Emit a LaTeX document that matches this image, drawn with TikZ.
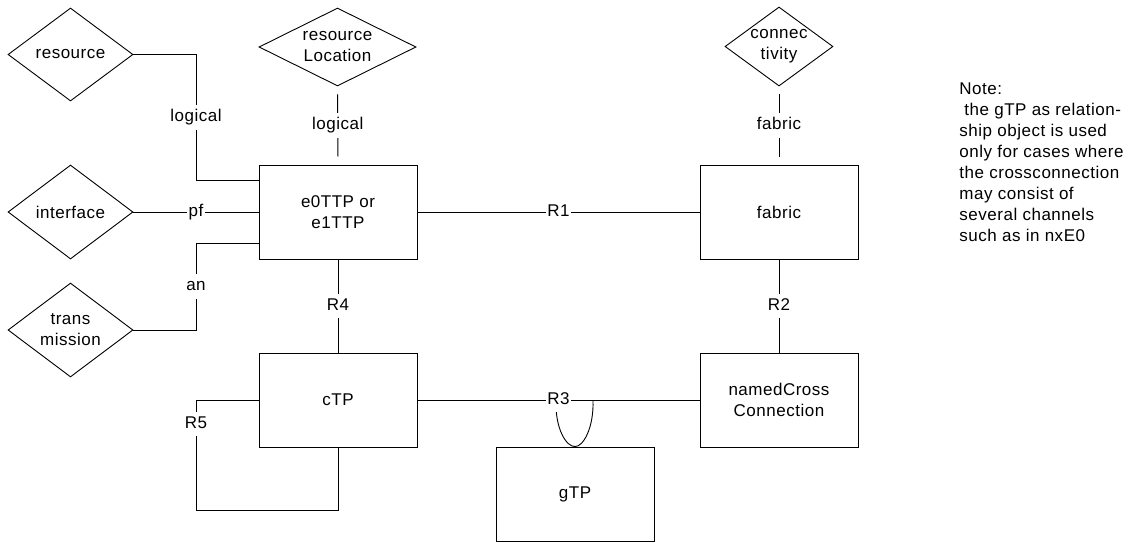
\documentclass[tikz,border=0pt]{standalone}
\usepackage{fontspec}
\setmainfont{Liberation Sans}[LetterSpace=3]
\usetikzlibrary{shapes.geometric,calc}
\tikzset{
  ent/.style={draw, rectangle, minimum width=158pt, minimum height=94pt, align=center, inner sep=0pt},
  attr/.style={draw, diamond, inner sep=-4pt, align=center},
  lbl/.style={fill=white, inner xsep=1.5pt, inner ysep=4.5pt, text height=12pt, text depth=3.5pt},
  conn/.style={line width=0.9pt},
}
\begin{document}
\begin{tikzpicture}[x=1pt, y=-1pt, font=\fontsize{17pt}{21pt}\selectfont, line width=0.9pt]
\useasboundingbox (0,0) rectangle (1129,543);
% attribute diamonds
\node[attr, aspect=1.34, minimum width=125pt, minimum height=93pt] (res) at (70.5,54.5) {resource};
\node[attr, aspect=1.33, minimum width=125pt, minimum height=94pt] (itf) at (70.5,212) {interface};
\node[attr, aspect=1.33, minimum width=125pt, minimum height=94pt] (trm) at (70.5,330) {trans\\mission};
\node[attr, aspect=2.0, minimum width=157pt, minimum height=78pt] (rl) at (337.5,47) {resource\\Location};
\node[attr, aspect=1.37, minimum width=108pt, minimum height=79pt] (cty) at (779,46.5) {connec\\tivity};
% entity boxes
\node[ent] (e0) at (338,212) {e0TTP or\\e1TTP};
\node[ent] (fab) at (779,212) {fabric};
\node[ent] (ctp) at (338,400) {cTP};
\node[ent] (ncc) at (779,400) {namedCross\\Connection};
\node[ent] (gtp) at (575,494) {gTP};
% helper corners
\coordinate (c1) at (196,180);
\coordinate (c2) at (196,243);
\coordinate (c3) at (196,400);
\coordinate (c4) at (196,510);
\coordinate (l1) at (556,400);
\coordinate (l2) at (593,400);
% connectors
\draw[conn] (res.east) -| node[lbl, pos=0.75] {logical} (c1) -- (c1 -| e0.west);
\draw[conn, shorten <=8pt, shorten >=8pt] (rl.south) -- node[lbl] {logical} (e0.north);
\draw[conn] (itf.east) -- node[lbl] {pf} (itf.east -| e0.west);
\draw[conn] (c2 -| e0.west) -- (c2) |- node[lbl, pos=0.25] {an} (trm.east);
\draw[conn, shorten <=8pt, shorten >=8pt] (cty.south) -- node[lbl] {fabric} (fab.north);
\draw[conn] (e0.east) -- node[lbl] {R1} (fab.west);
\draw[conn] (e0.south) -- node[lbl] {R4} (ctp.north);
\draw[conn] (fab.south) -- node[lbl] {R2} (ncc.north);
\draw[conn] (l1) .. controls (555,430) and (567,447) .. (gtp.north) .. controls (583,447) and (594,428) .. (l2);
\draw[conn] (ctp.east) -- node[lbl] {R3} (ncc.west);
\draw[conn] (ctp.west) -- (c3) -- node[lbl, pos=0.22] {R5} (c4) -- (c4 -| ctp.south) -- (ctp.south);
% note
\node[anchor=north west, align=left, inner sep=0pt] (note) at (959,82) {Note:\\\hspace*{5pt}the gTP as relation-\\ship object is used\\only for cases where\\the crossconnection\\may consist of\\several channels\\such as in nxE0};
\end{tikzpicture}
\end{document}
